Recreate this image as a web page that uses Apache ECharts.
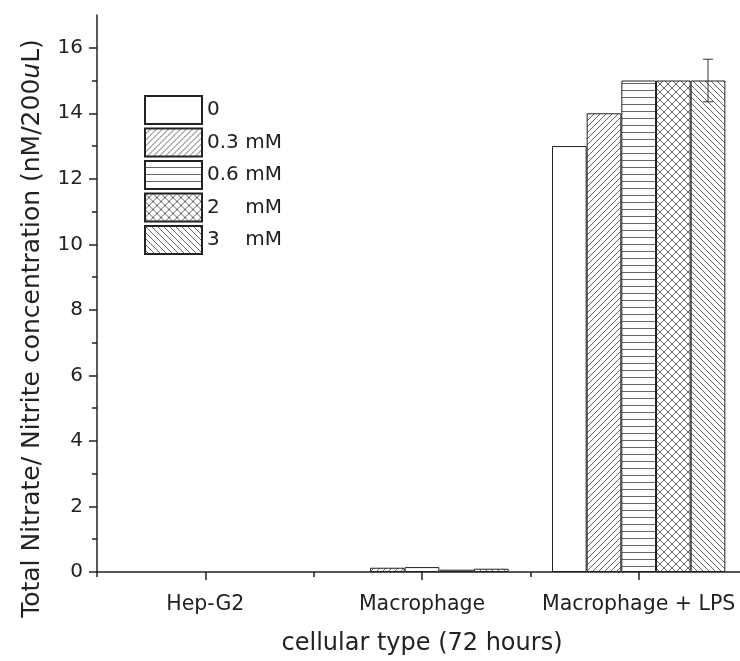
<!DOCTYPE html>
<html>
<head>
<meta charset="utf-8">
<script src="https://cdn.jsdelivr.net/npm/echarts@6/dist/echarts.min.js"></script>
<style>
  html, body { margin: 0; padding: 0; background: #fff; }
  #main { width: 740px; height: 661px; }
</style>
</head>
<body>
<div id="main"></div>
<script>
var categories = ['Hep-G2', 'Macrophage', 'Macrophage + LPS'];
var doseNames = ['0', '0.3 mM', '0.6 mM', '2    mM', '3    mM'];
var dose0 = [0, 0, 13];
var dose03 = [0, 0.13, 14];
var dose06 = [0, 0.15, 15];
var dose2 = [0, 0.07, 15];
var dose3 = [0, 0.1, 15];
var dose3Err = [0, 0, 0.65];
var yTicks = [0, 2, 4, 6, 8, 10, 12, 14, 16];
var yMinorTicks = [1, 3, 5, 7, 9, 11, 13, 15];

var FONT = 'DejaVu Sans, Liberation Sans, sans-serif';

// hatch patterns drawn on small canvases
function makePattern(kind) {
    var s = kind === 'horiz' ? 7 : (kind === 'cross' ? 8 : 6);
    var c = document.createElement('canvas');
    c.width = s; c.height = s;
    var ctx = c.getContext('2d');
    ctx.fillStyle = '#fff';
    ctx.fillRect(0, 0, s, s);
    ctx.strokeStyle = '#555';
    ctx.lineWidth = 0.9;
    ctx.beginPath();
    if (kind === 'fwd' || kind === 'cross') {
        ctx.moveTo(-1, s + 1); ctx.lineTo(s + 1, -1);
        ctx.moveTo(-1, 1); ctx.lineTo(1, -1);
        ctx.moveTo(s - 1, s + 1); ctx.lineTo(s + 1, s - 1);
    }
    if (kind === 'back' || kind === 'cross') {
        ctx.moveTo(-1, -1); ctx.lineTo(s + 1, s + 1);
        ctx.moveTo(s - 1, -1); ctx.lineTo(s + 1, 1);
        ctx.moveTo(-1, s - 1); ctx.lineTo(1, s + 1);
    }
    if (kind === 'horiz') {
        ctx.moveTo(0, s - 0.5); ctx.lineTo(s, s - 0.5);
    }
    ctx.stroke();
    return { image: c, repeat: 'repeat' };
}

var fills = ['#ffffff', makePattern('fwd'), makePattern('horiz'), makePattern('cross'), makePattern('back')];
var seriesData = [dose0, dose03, dose06, dose2, dose3];

var myChart = echarts.init(document.getElementById('main'));

var series = seriesData.map(function (d, i) {
    return {
        name: doseNames[i],
        type: 'bar',
        xAxisIndex: 0,
        yAxisIndex: 0,
        barGap: '0%',
        barCategoryGap: '20%',
        itemStyle: { color: fills[i], borderColor: '#222', borderWidth: 1 },
        // zero values are not drawn (no outline on the axis)
        data: d.map(function (v) { return v === 0 ? '-' : v; })
    };
});

series.push({
    type: 'custom',
    xAxisIndex: 0,
    yAxisIndex: 0,
    silent: true,
    z: 10,
    data: dose3Err.map(function (e, i) { return [i, dose3[i], e]; }),
    renderItem: function (params, api) {
        var err = api.value(2);
        if (!err) return null;
        var cat = api.value(0), v = api.value(1);
        var catW = api.size([1, 0])[0];
        var bw = catW * 0.8 / 5;
        var top = api.coord([cat, v + err]);
        var bot = api.coord([cat, v - err]);
        var x = top[0] + bw * 2;
        var half = 5;
        var style = { stroke: '#333', lineWidth: 1 };
        return {
            type: 'group',
            children: [
                { type: 'line', shape: { x1: x, y1: top[1], x2: x, y2: bot[1] }, style: style },
                { type: 'line', shape: { x1: x - half, y1: top[1], x2: x + half, y2: top[1] }, style: style },
                { type: 'line', shape: { x1: x - half, y1: bot[1], x2: x + half, y2: bot[1] }, style: style }
            ]
        };
    }
});

var option = {
    animation: false,
    backgroundColor: '#fff',
    textStyle: { fontFamily: FONT, color: '#222' },
    grid: { left: 97, top: 15, right: -7, bottom: 89, containLabel: false, outerBoundsMode: 'none' },
    legend: {
        orient: 'vertical',
        left: 144,
        top: 95,
        padding: 0,
        itemWidth: 57,
        itemHeight: 28,
        itemGap: 2.5,
        icon: 'rect',
        data: doseNames,
        textStyle: { fontSize: 20, fontFamily: FONT, color: '#222' }
    },
    xAxis: [
        {
            type: 'category',
            data: categories,
            name: 'cellular type (72 hours)',
            nameLocation: 'middle',
            nameGap: 60,
            nameTextStyle: { fontSize: 24, fontFamily: FONT, color: '#222' },
            axisLine: { lineStyle: { color: '#222', width: 1.5 } },
            axisTick: { show: true, alignWithLabel: true, inside: false, length: 8, lineStyle: { color: '#222', width: 1.5 } },
            axisLabel: { interval: 0, hideOverlap: false, fontSize: 20.5, fontFamily: FONT, color: '#222', margin: 22 },
            splitLine: { show: false }
        },
        {
            type: 'category',
            data: categories,
            position: 'bottom',
            axisLine: { show: false },
            axisTick: { show: true, interval: 0, length: 5, lineStyle: { color: '#222', width: 1.5 } },
            axisLabel: { show: false },
            splitLine: { show: false }
        }
    ],
    yAxis: [
        {
            type: 'value',
            min: 0,
            max: 17,
            interval: 2,
            name: 'Total Nitrate/ Nitrite concentration (nM/200{i|u}L)',
            nameLocation: 'middle',
            nameGap: 52,
            nameTextStyle: {
                fontSize: 25,
                fontFamily: FONT,
                color: '#222',
                padding: [0, 70, 0, 0],
                rich: { i: { fontSize: 25, fontFamily: FONT, fontStyle: 'italic', color: '#222' } }
            },
            axisLine: { show: true, lineStyle: { color: '#222', width: 1.5 } },
            axisTick: { show: true, length: 8, customValues: yTicks, lineStyle: { color: '#222', width: 1.5 } },
            axisLabel: { fontSize: 20, fontFamily: FONT, color: '#222', margin: 14, customValues: yTicks },
            splitLine: { show: false }
        },
        {
            type: 'value',
            min: 0,
            max: 17,
            interval: 1,
            position: 'left',
            axisLine: { show: false },
            axisTick: { show: true, length: 5, customValues: yMinorTicks, lineStyle: { color: '#222', width: 1.5 } },
            axisLabel: { show: false },
            splitLine: { show: false }
        }
    ],
    series: series
};

myChart.setOption(option);
</script>
</body>
</html>
